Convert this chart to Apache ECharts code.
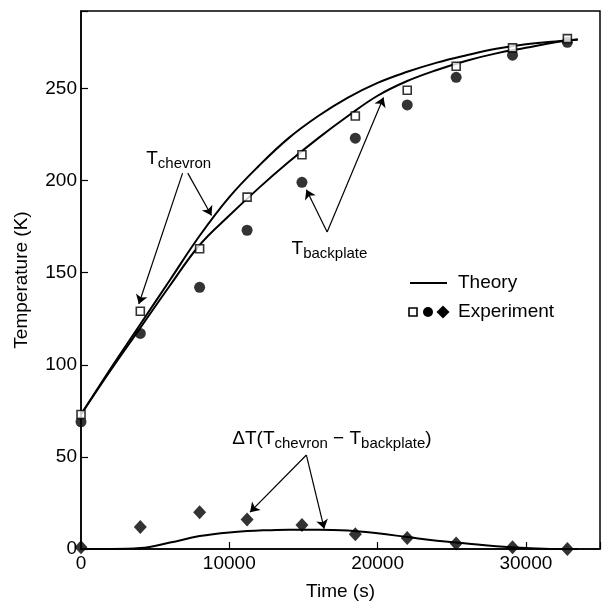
<!DOCTYPE html>
<html style="height: 100%">
<head>
  <meta charset="utf-8">
  <title>Temperature vs time</title>
</head>
<body style="height: 100%; margin: 0; background: #fff">
<div id="container" style="width: 607px; height: 607px"></div>
<script src="https://cdn.jsdelivr.net/npm/echarts@6/dist/echarts.min.js"></script>
<script>
  var dom = document.getElementById("container");
  var myChart = echarts.init(dom);
  var option;
  var FONT = 'Liberation Sans';

  // theory curves (time in s, temperature in K)
  let theoryTime = [0, 2000, 4000, 6000, 8000, 10000, 12000, 14000, 16000, 18000, 20000, 22000, 24000, 26000, 28000, 30000, 32000, 33500];
  let chevronTheory = [73, 98, 122, 146, 170, 191, 208, 223, 235, 245, 253, 259, 264, 268, 271.5, 274, 275.5, 276.5];
  let backplateTheory = [73, 97, 120, 143, 165, 181, 196, 210, 223, 235, 246, 254, 260, 265, 269, 272, 275, 276.5];
  let deltaTheory = [0, 0, 0.5, 3.5, 7, 9, 10, 10.5, 10.5, 10, 8.5, 6.5, 4.5, 3, 1.5, 0.5, 0, 0];

  // experiment points
  let expTime = [0, 4000, 8000, 11200, 14900, 18500, 22000, 25300, 29100, 32800];
  let chevronExp = [73, 129, 163, 191, 214, 235, 249, 262, 272, 277];
  let backplateExp = [69, 117, 142, 173, 199, 223, 241, 256, 268, 275];
  let deltaExp = [1, 12, 20, 16, 13, 8, 6, 3, 1, 0];

  // annotation arrows [from, to] in data units
  let arrows = [
    [[6850, 204], [3900, 133]],
    [[7200, 204], [8800, 181]],
    [[16600, 172], [15200, 195]],
    [[16600, 172], [20400, 245]],
    [[15200, 51], [11400, 20]],
    [[15200, 51], [16400, 11]]
  ];
  let notes = [
    {at: [4400, 212], text: 'T{s|chevron}'},
    {at: [14200, 163], text: 'T{s|backplate}'},
    {at: [10200, 60], text: 'ΔT(T{s|chevron} − T{s|backplate})'}
  ];

  function pairs(xs, ys) {
    return xs.map((x, i) => [x, ys[i]]);
  }

  function theoryLine(ys) {
    return {
      type: 'line',
      data: pairs(theoryTime, ys),
      smooth: 0.4,
      showSymbol: false,
      lineStyle: {color: '#000', width: 2},
      silent: true,
      z: 2
    };
  }

  option = {
    backgroundColor: '#fff',
    animation: false,
    textStyle: {fontFamily: FONT},
    grid: {left: 81, right: 7, top: 11, bottom: 58, show: true, borderColor: '#000', borderWidth: 1.5},
    xAxis: {
      type: 'value',
      min: 0,
      max: 35000,
      interval: 10000,
      name: 'Time (s)',
      nameLocation: 'middle',
      nameGap: 33,
      nameTextStyle: {fontSize: 19, color: '#000', fontFamily: FONT},
      axisLine: {lineStyle: {color: '#000', width: 1.5}},
      axisTick: {inside: true, length: 7, lineStyle: {color: '#000', width: 1.2}},
      axisLabel: {
        fontSize: 19, color: '#000', margin: 5, fontFamily: FONT,
        formatter: v => (v % 10000 === 0 ? String(v) : '')
      },
      splitLine: {show: false}
    },
    yAxis: {
      type: 'value',
      min: 0,
      max: 292,
      interval: 50,
      name: 'Temperature (K)',
      nameLocation: 'middle',
      nameGap: 50,
      nameTextStyle: {fontSize: 19, color: '#000', fontFamily: FONT},
      axisLine: {lineStyle: {color: '#000', width: 1.5}},
      axisTick: {inside: true, length: 7, lineStyle: {color: '#000', width: 1.2}},
      axisLabel: {
        fontSize: 19, color: '#000', margin: 4, fontFamily: FONT,
        formatter: v => (v % 50 === 0 ? String(v) : '')
      },
      splitLine: {show: false}
    },
    series: [
      theoryLine(chevronTheory),
      theoryLine(backplateTheory),
      theoryLine(deltaTheory),
      {
        type: 'scatter',
        data: pairs(expTime, backplateExp),
        symbol: 'circle',
        symbolSize: 11,
        itemStyle: {color: '#000'},
        z: 3
      },
      {
        type: 'scatter',
        data: pairs(expTime, chevronExp),
        symbol: 'rect',
        symbolSize: 8,
        itemStyle: {color: '#fff', borderColor: '#000', borderWidth: 1.6},
        z: 4
      },
      {
        type: 'scatter',
        data: pairs(expTime, deltaExp),
        symbol: 'diamond',
        symbolSize: [13, 14],
        itemStyle: {color: '#000'},
        z: 4,
        markLine: {
          silent: true,
          symbol: ['none', 'arrow'],
          symbolSize: 9,
          lineStyle: {color: '#000', width: 1.2, type: 'solid'},
          label: {show: false},
          data: arrows.map(a => [{coord: a[0]}, {coord: a[1]}])
        },
        markPoint: {
          silent: true,
          symbol: 'circle',
          symbolSize: 0,
          data: notes.map(n => ({
            coord: n.at,
            label: {
              show: true,
              position: 'right',
              distance: 0,
              formatter: n.text,
              color: '#000',
              fontSize: 19,
              fontFamily: FONT,
              rich: {
                s: {fontSize: 15, fontFamily: FONT, color: '#000', padding: [10, 0, 0, 0]}
              }
            }
          }))
        }
      }
    ],
    graphic: [
      {type: 'line', shape: {x1: 410, y1: 283, x2: 447, y2: 283}, style: {stroke: '#000', lineWidth: 2}},
      {type: 'text', x: 458, y: 283, style: {text: 'Theory', fontSize: 19, fontFamily: FONT, fill: '#000', verticalAlign: 'middle'}},
      {type: 'rect', shape: {x: 409, y: 308, width: 8, height: 8}, style: {fill: '#fff', stroke: '#000', lineWidth: 1.6}},
      {type: 'circle', shape: {cx: 428, cy: 312, r: 5}, style: {fill: '#000'}},
      {type: 'polygon', shape: {points: [[443, 305.5], [449.5, 312], [443, 318.5], [436.5, 312]]}, style: {fill: '#000'}},
      {type: 'text', x: 458, y: 312, style: {text: 'Experiment', fontSize: 19, fontFamily: FONT, fill: '#000', verticalAlign: 'middle'}}
    ]
  };

  if (option && typeof option === 'object') {
    myChart.setOption(option);
  }
</script>
</body>
</html>
